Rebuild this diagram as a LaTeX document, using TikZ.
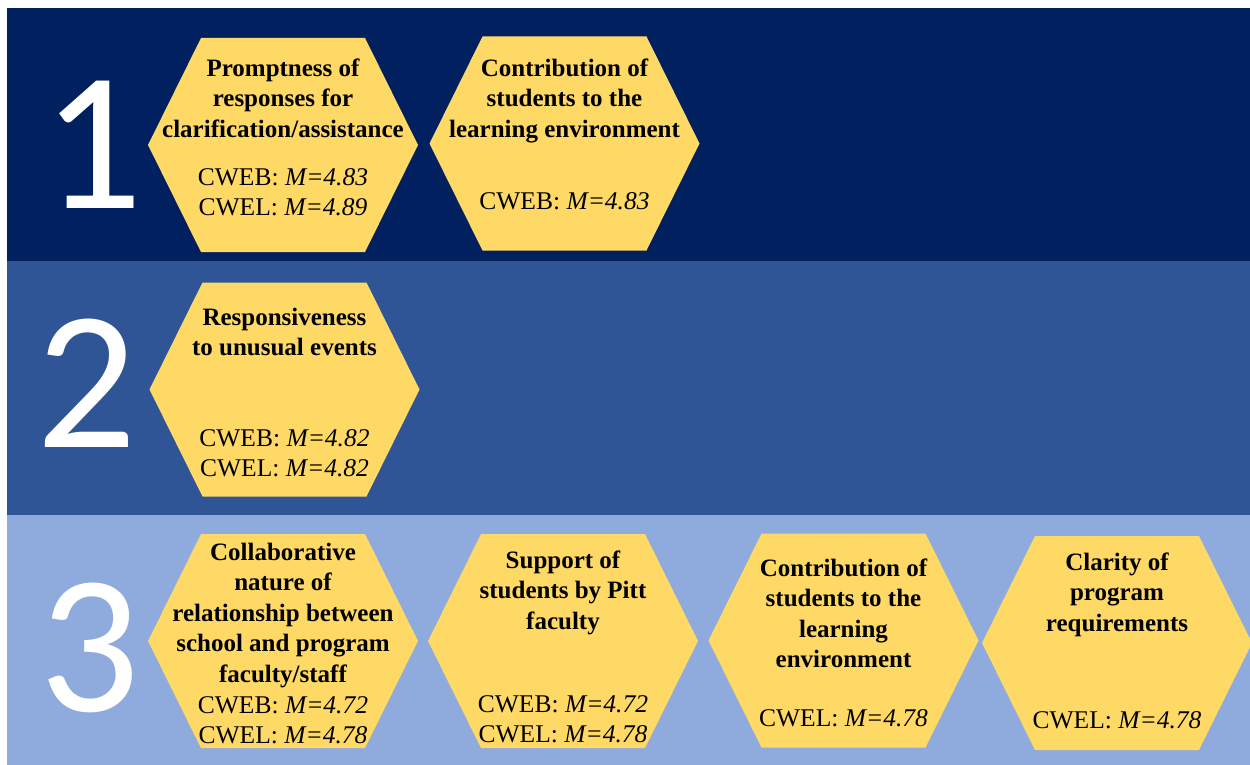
\documentclass[tikz,border=0pt]{standalone}
\usepackage{fontspec}
\setmainfont{Liberation Serif}
\newfontfamily\digitfont{Carlito}
\usetikzlibrary{positioning}
\definecolor{navyband}{RGB}{0,32,96}
\definecolor{midband}{RGB}{47,85,151}
\definecolor{lightband}{RGB}{143,170,220}
\definecolor{hexfill}{RGB}{255,217,102}

% hexagon: name, centre x, centre y
\newcommand{\hexcell}[3]{%
  \fill[hexfill] ({#2-\hexW},#3) -- ({#2-\hexW+\hexS},{#3-\hexH})
     -- ({#2+\hexW-\hexS},{#3-\hexH}) -- ({#2+\hexW},#3)
     -- ({#2+\hexW-\hexS},{#3+\hexH}) -- ({#2-\hexW+\hexS},{#3+\hexH}) -- cycle;
  \coordinate (#1) at (#2,#3);}

\begin{document}
\begin{tikzpicture}[x=1pt, y=-1pt,
    title/.style={inner sep=0pt, anchor=north, align=center,
      font=\fontsize{25}{30.5}\selectfont\bfseries},
    value/.style={inner sep=0pt, anchor=north, align=center,
      font=\fontsize{25.5}{30.5}\selectfont},
    digit/.style={inner sep=0pt, anchor=base, text=white,
      font=\digitfont\fontsize{198}{198}\selectfont}]

    % Dimensions des hexagones
    \def\hexW{135}
    \def\hexH{107}
    \def\hexS{53}

    \fill[white] (0,0) rectangle (1250,765);
    \useasboundingbox (0,0) rectangle (1250,765);

    % =========================================================================
    % BANDES
    % =========================================================================
    \fill[navyband] (7,8) rectangle (1250,261);
    \fill[midband] (7,261) rectangle (1250,515);
    \fill[lightband] (7,515) rectangle (1250,765);

    \node[digit] (one) at (93,208) {1};
    \node[digit] (two) at (87,447) {2};
    \node[digit] (three) at (90,711) {3};

    % =========================================================================
    % RANG 1
    % =========================================================================
    \hexcell{hexA}{283}{145}
    \node[title] (titleA) at (283,54.6) {\strut Promptness of\\responses for\\clarification/assistance};
    \node[value] (valA) at (283,163.6) {\strut CWEB: \textit{M=4.83}\\CWEL: \textit{M=4.89}};

    \hexcell{hexB}{564.5}{143.5}
    \node[title] (titleB) at (564.5,54.6) {\strut Contribution of\\students to the\\learning environment};
    \node[value] (valB) at (564.5,187.6) {\strut CWEB: \textit{M=4.83}};

    % =========================================================================
    % RANG 2
    % =========================================================================
    \hexcell{hexC}{284.5}{389.5}
    \node[title] (titleC) at (284.5,303.6) {\strut Responsiveness\\to unusual events};
    \node[value] (valC) at (284.5,424.6) {\strut CWEB: \textit{M=4.82}\\CWEL: \textit{M=4.82}};

    % =========================================================================
    % RANG 3
    % =========================================================================
    \hexcell{hexD}{283}{641}
    \node[title] (titleD) at (283,538.6) {\strut Collaborative\\nature of\\relationship between\\school and program\\faculty/staff};
    \node[value] (valD) at (283,691.6) {\strut CWEB: \textit{M=4.72}\\CWEL: \textit{M=4.78}};

    \hexcell{hexE}{563}{641}
    \node[title] (titleE) at (563,546.6) {\strut Support of\\students by Pitt\\faculty};
    \node[value] (valE) at (563,690.6) {\strut CWEB: \textit{M=4.72}\\CWEL: \textit{M=4.78}};

    \hexcell{hexF}{843.5}{640.5}
    \node[title] (titleF) at (843.5,554.6) {\strut Contribution of\\students to the\\learning\\environment};
    \node[value] (valF) at (843.5,704.6) {\strut CWEL: \textit{M=4.78}};

    \hexcell{hexG}{1117}{643}
    \node[title] (titleG) at (1117,548.6) {\strut Clarity of\\program\\requirements};
    \node[value] (valG) at (1117,706.6) {\strut CWEL: \textit{M=4.78}};
\end{tikzpicture}
\end{document}
